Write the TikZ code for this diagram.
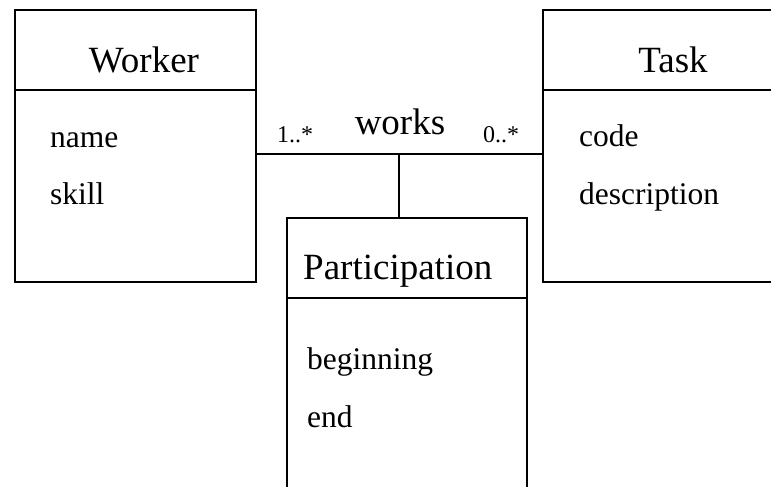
\documentclass[tikz,border=0pt]{standalone}
\usepackage{fontspec}
\setmainfont{Liberation Serif}
\begin{document}
\begin{tikzpicture}[x=1pt,y=1pt,
  box/.style={draw,line width=1.8pt,rectangle,inner sep=0pt},
  ln/.style={line width=1.8pt},
  title/.style={anchor=base,inner sep=0pt,font=\fontsize{37}{40}\selectfont},
  attr/.style={anchor=base west,inner sep=0pt,font=\fontsize{31.5}{36}\selectfont},
  mult/.style={anchor=base west,inner sep=0pt,font=\fontsize{24}{28}\selectfont}]
\useasboundingbox (0,0) rectangle (771,487);
\clip (0,0) rectangle (771,487);
% boxes
\node[box,minimum width=241pt,minimum height=272pt] (worker) at (135.5,341) {};
\node[box,minimum width=257pt,minimum height=272pt] (task) at (671.5,341) {};
\node[box,minimum width=240pt,minimum height=300pt] (part) at (407,119) {};
% header lines
\coordinate (wh) at (0,397);
\coordinate (ph) at (0,189);
\draw[ln] (worker.west |- wh) -- (worker.east |- wh);
\draw[ln] (task.west |- wh) -- (task.east |- wh);
\draw[ln] (part.west |- ph) -- (part.east |- ph);
% titles
\node[title] (wt) at (144,414) {Worker};
\node[title] (tt) at (673,414) {Task};
\node[anchor=base west,inner sep=0pt,font=\fontsize{37}{40}\selectfont] (pt) at (303,207) {Participation};
% attributes
\node[attr] (a1) at (50,339) {name};
\node[attr] (a2) at (50,282) {skill};
\node[attr] (a3) at (579,340) {code};
\node[attr] (a4) at (579,282) {description};
\node[attr] (a5) at (307,117) {beginning};
\node[attr] (a6) at (307,59) {end};
% association
\coordinate (assoc) at (399,333);
\draw[ln] (worker.east |- assoc) -- (task.west |- assoc);
\draw[ln] (assoc) -- (assoc |- part.north);
\node[title] (works) at (400,352) {works};
\node[mult] (m1) at (277,344) {1..*};
\node[mult] (m2) at (483,344) {0..*};
\end{tikzpicture}
\end{document}
